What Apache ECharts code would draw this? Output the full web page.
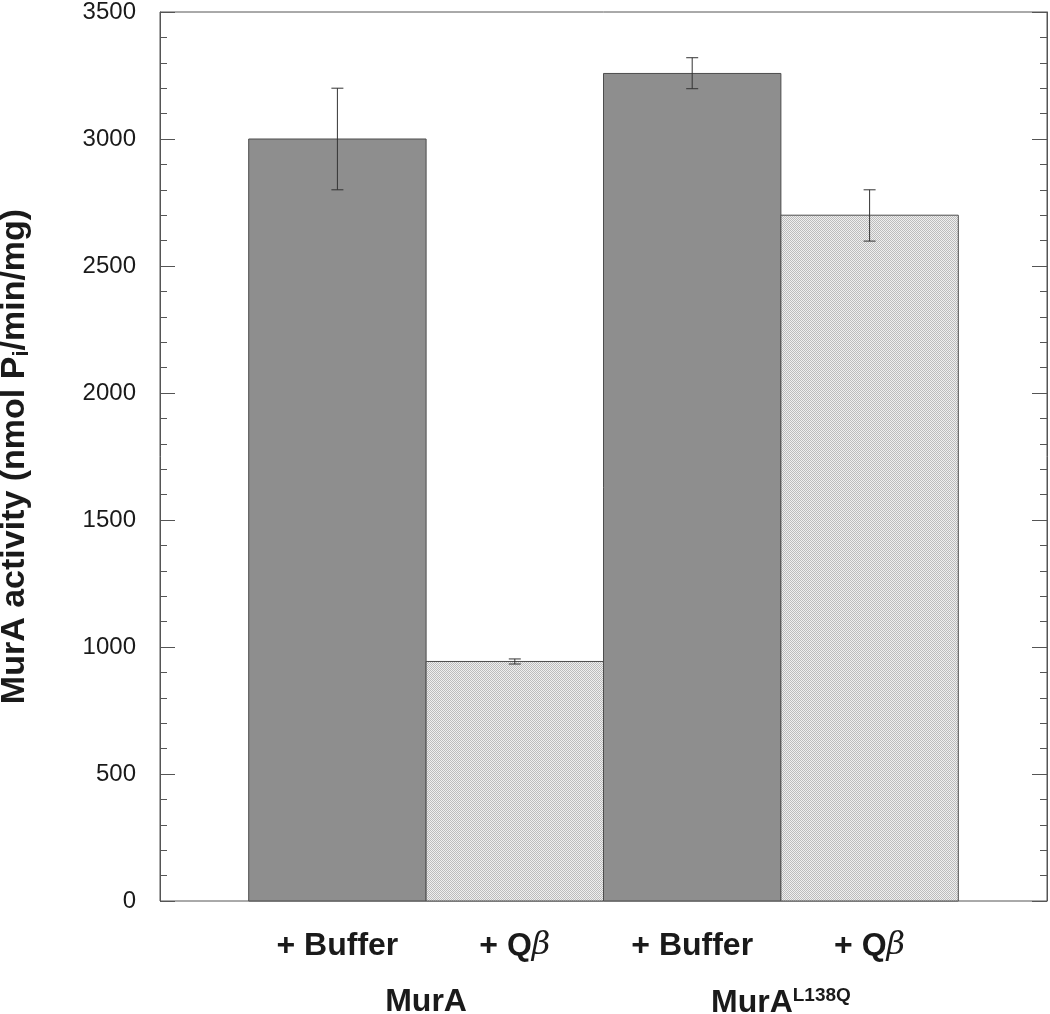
<!DOCTYPE html>
<html>
<head>
<meta charset="utf-8">
<script src="https://cdn.jsdelivr.net/npm/echarts@6/dist/echarts.min.js"></script>
<style>
  html, body { margin: 0; padding: 0; background: #fff; }
  #chart { width: 1050px; height: 1014px; }
</style>
</head>
<body>
<div id="chart"></div>
<script>
// values
var treatments = ['+ Buffer', '+ Q{b|β}', '+ Buffer', '+ Q{b|β}'];
var groups = ['MurA', 'MurA{sup|L138Q}'];
var groupPos = [1.5, 3.5];
var activity = [3000, 943, 3258, 2700];
var errLow = [2800, 933, 3198, 2598];
var errHigh = [3200, 953, 3320, 2800];
var yTicks = [0, 500, 1000, 1500, 2000, 2500, 3000, 3500];

var barPos = activity.map(function (v, i) { return i + 1; });

// fine dotted fill of the + Qbeta bars
var dots = document.createElement('canvas');
dots.width = 2; dots.height = 2;
var ctx = dots.getContext('2d');
ctx.fillStyle = '#efefef'; ctx.fillRect(0, 0, 2, 2);
ctx.fillStyle = '#bcbcbc'; ctx.fillRect(0, 0, 1, 1); ctx.fillRect(1, 1, 1, 1);

var barData = activity.map(function (v, i) { return [barPos[i], v, i % 2]; });
var errData = activity.map(function (v, i) { return [barPos[i], errLow[i], errHigh[i]]; });

var myChart = echarts.init(document.getElementById('chart'));

function yAxisOf(pos) {
  return {
    type: 'value',
    position: pos,
    min: yTicks[0],
    max: yTicks[yTicks.length - 1],
    interval: 500,
    axisLine: { show: true, onZero: false, lineStyle: { color: '#555', width: 1 } },
    axisTick: { show: true, inside: true, length: 15, lineStyle: { color: '#555' } },
    minorTick: { show: true, splitNumber: 5, length: 7, lineStyle: { color: '#555' } },
    splitLine: { show: false }
  };
}

var leftAxis = yAxisOf('left');
leftAxis.name = 'MurA activity (nmol P{sub|i}/min/mg)';
leftAxis.nameLocation = 'middle';
leftAxis.nameGap = 127;
leftAxis.nameTextStyle = {
  color: '#1a1a1a', fontFamily: 'Liberation Sans', fontWeight: 'bold', fontSize: 34,
  rich: {
    sub: { fontFamily: 'Liberation Sans', fontWeight: 'bold', fontSize: 22, color: '#1a1a1a', padding: [14, 0, 0, 0] }
  }
};
leftAxis.axisLabel = {
  margin: 24, color: '#1a1a1a', fontFamily: 'Liberation Sans', fontSize: 24,
  formatter: function (v) { return String(v); }
};

var rightAxis = yAxisOf('right');
rightAxis.axisLabel = { show: false };

var option = {
  animation: false,
  backgroundColor: '#fff',
  grid: {
    left: 160, right: 3, top: 12, bottom: 113,
    outerBoundsMode: 'none',
    show: true, borderColor: '#555', borderWidth: 1
  },
  xAxis: [{
    type: 'value', min: 0, max: 5,
    axisLine: { show: false, onZero: false },
    axisTick: { show: false },
    splitLine: { show: false },
    axisLabel: {
      customValues: barPos,
      margin: 29,
      color: '#1a1a1a',
      fontFamily: 'Liberation Sans',
      fontWeight: 'bold',
      fontSize: 32,
      formatter: function (v) { return treatments[v - 1]; },
      rich: {
        b: { fontFamily: 'DejaVu Serif', fontStyle: 'italic', fontWeight: 'normal', fontSize: 32, color: '#1a1a1a' }
      }
    }
  }, {
    type: 'value', min: 0, max: 5, position: 'bottom',
    axisLine: { show: false, onZero: false },
    axisTick: { show: false },
    splitLine: { show: false },
    axisLabel: {
      customValues: groupPos,
      margin: 85,
      color: '#1a1a1a',
      fontFamily: 'Liberation Sans',
      fontWeight: 'bold',
      fontSize: 32,
      formatter: function (v) { return groups[groupPos.indexOf(v)]; },
      rich: {
        sup: { fontFamily: 'Liberation Sans', fontWeight: 'bold', fontSize: 19, color: '#1a1a1a', padding: [0, 0, 16, 0] }
      }
    }
  }],
  yAxis: [leftAxis, rightAxis],
  series: [{
    type: 'custom',
    xAxisIndex: 0, yAxisIndex: 0,
    data: barData,
    renderItem: function (params, api) {
      var a = api.coord([api.value(0) - 0.5, api.value(1)]);
      var b = api.coord([api.value(0) + 0.5, 0]);
      var light = api.value(2) === 1;
      return {
        type: 'rect',
        shape: { x: a[0], y: a[1], width: b[0] - a[0], height: b[1] - a[1] },
        style: {
          fill: light ? { image: dots, repeat: 'repeat' } : '#8e8e8e',
          stroke: '#4d4d4d', lineWidth: 1
        }
      };
    }
  }, {
    type: 'custom',
    xAxisIndex: 0, yAxisIndex: 0,
    data: errData,
    z: 5,
    renderItem: function (params, api) {
      var lo = api.coord([api.value(0), api.value(1)]);
      var hi = api.coord([api.value(0), api.value(2)]);
      var c = 6;
      var st = { stroke: '#333', lineWidth: 1 };
      return {
        type: 'group',
        children: [
          { type: 'line', shape: { x1: lo[0], y1: lo[1], x2: hi[0], y2: hi[1] }, style: st },
          { type: 'line', shape: { x1: lo[0] - c, y1: lo[1], x2: lo[0] + c, y2: lo[1] }, style: st },
          { type: 'line', shape: { x1: hi[0] - c, y1: hi[1], x2: hi[0] + c, y2: hi[1] }, style: st }
        ]
      };
    }
  }]
};

myChart.setOption(option);
</script>
</body>
</html>
